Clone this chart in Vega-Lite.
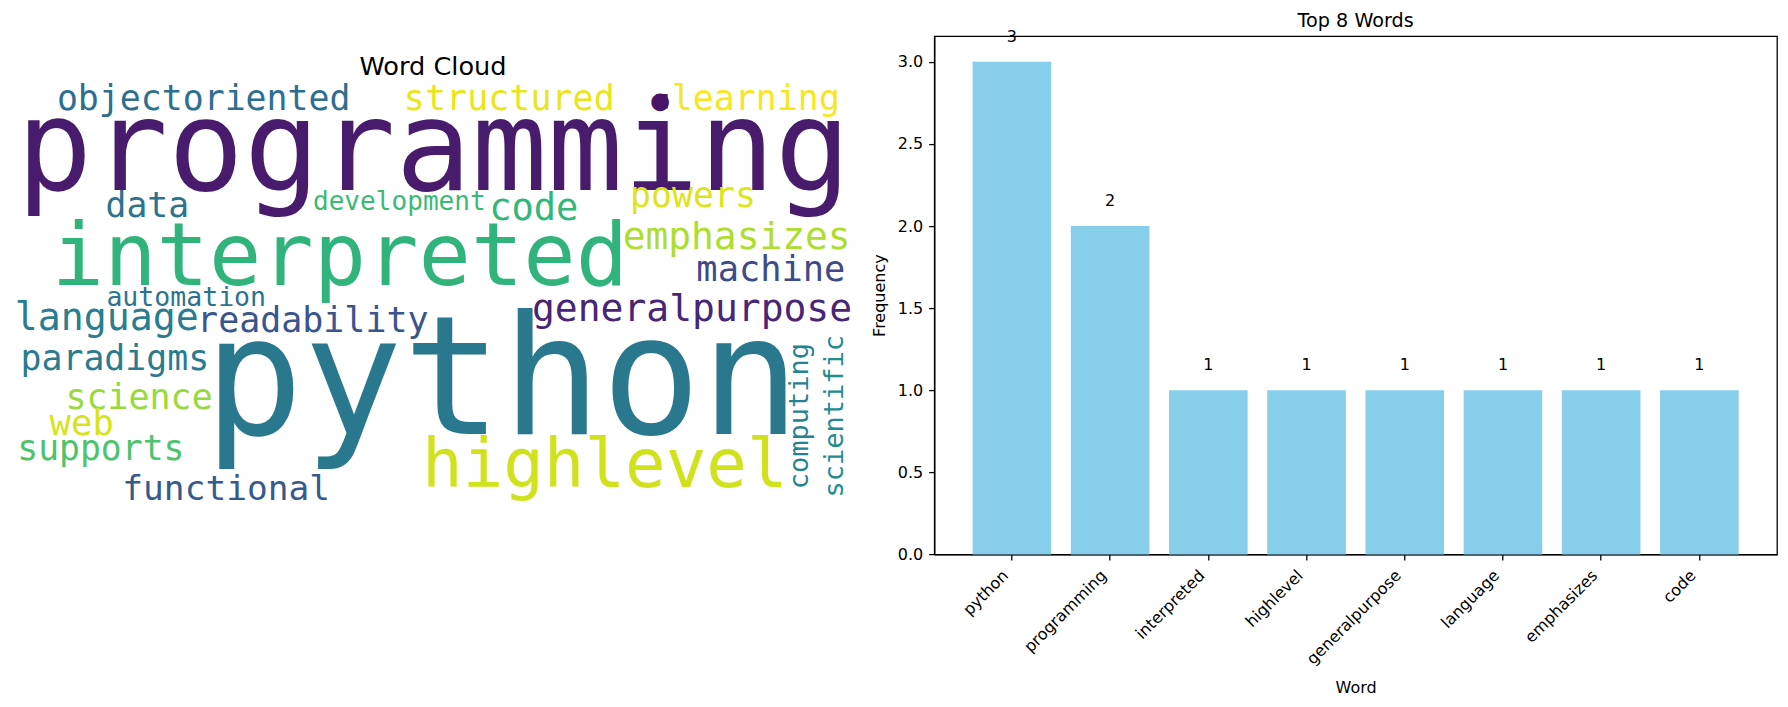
{
  "$schema": "https://vega.github.io/schema/vega-lite/v6.json",
  "autosize": {"type": "pad"},
  "padding": {"left": 12, "top": 11.1, "right": 0, "bottom": 0},
  "background": "white",
  "spacing": 80.3,
  "bounds": "flush",
  "config": {
    "view": {"stroke": null},
    "font": "DejaVu Sans",
    "title": {"font": "DejaVu Sans", "fontWeight": "normal", "color": "black", "anchor": "middle", "frame": "group", "baseline": "alphabetic"}
  },
  "datasets": {
    "cloud": [
      {"word": "programming", "x": 400.5, "y": 100.2, "weight": 119.7, "tone": 0.07, "orientation": "horizontal"},
      {"word": "python", "x": 465.6, "y": 331.4, "weight": 156.8, "tone": 0.40, "orientation": "horizontal"},
      {"word": "interpreted", "x": 311.6, "y": 190.5, "weight": 82.7, "tone": 0.65, "orientation": "horizontal"},
      {"word": "highlevel", "x": 563.2, "y": 382.1, "weight": 64.1, "tone": 0.93, "orientation": "horizontal"},
      {"word": "generalpurpose", "x": 646.1, "y": 224.7, "weight": 36.1, "tone": 0.10, "orientation": "horizontal"},
      {"word": "objectoriented", "x": 182.1, "y": 23.6, "weight": 33.1, "tone": 0.36, "orientation": "horizontal"},
      {"word": "structured", "x": 472.5, "y": 23.6, "weight": 33.3, "tone": 0.97, "orientation": "horizontal"},
      {"word": "learning", "x": 706.7, "y": 23.6, "weight": 33.2, "tone": 0.99, "orientation": "horizontal"},
      {"word": "●", "x": 615.7, "y": 24.3, "weight": 28, "tone": 0.05, "orientation": "horizontal"},
      {"word": "data", "x": 128.6, "y": 125.6, "weight": 33, "tone": 0.38, "orientation": "horizontal"},
      {"word": "development", "x": 368, "y": 119.2, "weight": 24.8, "tone": 0.68, "orientation": "horizontal"},
      {"word": "code", "x": 495.7, "y": 128.1, "weight": 35.2, "tone": 0.66, "orientation": "horizontal"},
      {"word": "powers", "x": 647, "y": 116.1, "weight": 33.1, "tone": 0.95, "orientation": "horizontal"},
      {"word": "emphasizes", "x": 688.5, "y": 155.6, "weight": 36, "tone": 0.88, "orientation": "horizontal"},
      {"word": "machine", "x": 721, "y": 186.4, "weight": 33.6, "tone": 0.22, "orientation": "horizontal"},
      {"word": "automation", "x": 165.5, "y": 210.5, "weight": 25.2, "tone": 0.38, "orientation": "horizontal"},
      {"word": "language", "x": 90, "y": 233.3, "weight": 36.3, "tone": 0.42, "orientation": "horizontal"},
      {"word": "readability", "x": 285.8, "y": 234.9, "weight": 33.2, "tone": 0.26, "orientation": "horizontal"},
      {"word": "paradigms", "x": 97.7, "y": 270.6, "weight": 33.1, "tone": 0.41, "orientation": "horizontal"},
      {"word": "science", "x": 120.7, "y": 307.6, "weight": 33.2, "tone": 0.85, "orientation": "horizontal"},
      {"word": "web", "x": 66.2, "y": 333, "weight": 33.8, "tone": 0.94, "orientation": "horizontal"},
      {"word": "supports", "x": 84.4, "y": 356.8, "weight": 33, "tone": 0.72, "orientation": "horizontal"},
      {"word": "functional", "x": 203.5, "y": 394.1, "weight": 32.8, "tone": 0.28, "orientation": "horizontal"},
      {"word": "computing", "x": 756.6, "y": 314.7, "weight": 25.7, "tone": 0.44, "orientation": "vertical"},
      {"word": "scientific", "x": 789.8, "y": 314.8, "weight": 25.7, "tone": 0.48, "orientation": "vertical"}
    ],
    "top": [
      {"word": "python", "frequency": 3},
      {"word": "programming", "frequency": 2},
      {"word": "interpreted", "frequency": 1},
      {"word": "highlevel", "frequency": 1},
      {"word": "generalpurpose", "frequency": 1},
      {"word": "language", "frequency": 1},
      {"word": "emphasizes", "frequency": 1},
      {"word": "code", "frequency": 1}
    ]
  },
  "hconcat": [
    {
      "width": 842,
      "height": 518.3,
      "title": {"text": "Word Cloud", "fontSize": 25.6, "offset": -44.2},
      "data": {"name": "cloud"},
      "encoding": {
        "x": {"field": "x", "type": "quantitative", "axis": null, "scale": {"domain": [0, 800], "nice": false, "zero": false}},
        "y": {"field": "y", "type": "quantitative", "axis": null, "scale": {"domain": [-46.37, 446.08], "nice": false, "zero": false, "reverse": true}},
        "text": {"field": "word", "type": "nominal"},
        "size": {"field": "weight", "type": "quantitative", "legend": null, "scale": {"type": "linear", "domain": [0, 100], "range": [0, 105.25], "zero": true}},
        "color": {"field": "tone", "type": "quantitative", "legend": null, "scale": {"scheme": "viridis", "domain": [0, 1]}}
      },
      "layer": [
        {
          "transform": [{"filter": "datum.orientation === 'horizontal'"}],
          "mark": {"type": "text", "font": "DejaVu Sans Mono", "align": "center", "baseline": "alphabetic"}
        },
        {
          "transform": [{"filter": "datum.orientation === 'vertical'"}],
          "mark": {"type": "text", "font": "DejaVu Sans Mono", "align": "center", "baseline": "alphabetic", "angle": 270}
        }
      ]
    },
    {
      "width": 842.7,
      "height": 518.3,
      "view": {"stroke": "black", "strokeWidth": 1.28},
      "title": {"text": "Top 8 Words", "fontSize": 19.2, "offset": -2.6},
      "data": {"name": "top"},
      "encoding": {
        "x": {
          "field": "word", "type": "nominal", "sort": null,
          "scale": {"paddingInner": 0.2, "paddingOuter": 0.39},
          "axis": {
            "title": "Word", "titleFontSize": 16, "titleFontWeight": "normal", "titleColor": "black", "titleFont": "DejaVu Sans",
            "titleBaseline": "alphabetic", "titleY": 137.7,
            "labelAngle": -45, "labelAlign": "right", "labelBaseline": "alphabetic", "labelPadding": 16.1, "labelOffset": -2.7,
            "labelFontSize": 16, "labelColor": "black", "labelFont": "DejaVu Sans", "labelOverlap": false, "labelBound": false, "labelFlush": false,
            "tickSize": 5.6, "tickWidth": 1.28, "tickColor": "black", "domainColor": "black", "domainWidth": 1.28, "grid": false
          }
        },
        "y": {
          "field": "frequency", "type": "quantitative",
          "scale": {"domain": [0, 3.157], "nice": false, "zero": true},
          "axis": {
            "title": "Frequency", "titleFontSize": 16, "titleFontWeight": "normal", "titleColor": "black", "titleFont": "DejaVu Sans",
            "titleAngle": -90, "titleAlign": "center", "titleBaseline": "middle", "titleX": -54.6, "titleY": 259,
            "values": [0, 0.5, 1, 1.5, 2, 2.5, 3], "format": ".1f",
            "labelFontSize": 16, "labelColor": "black", "labelFont": "DejaVu Sans", "labelPadding": 6, "labelBaseline": "middle",
            "tickSize": 5.6, "tickWidth": 1.28, "tickColor": "black", "domainColor": "black", "domainWidth": 1.28, "grid": false
          }
        }
      },
      "layer": [
        {"mark": {"type": "bar", "color": "#87ceeb"}},
        {
          "mark": {"type": "text", "align": "center", "baseline": "alphabetic", "dy": -20.2, "fontSize": 16, "color": "black", "font": "DejaVu Sans"},
          "encoding": {"text": {"field": "frequency", "type": "quantitative"}}
        }
      ]
    }
  ]
}
